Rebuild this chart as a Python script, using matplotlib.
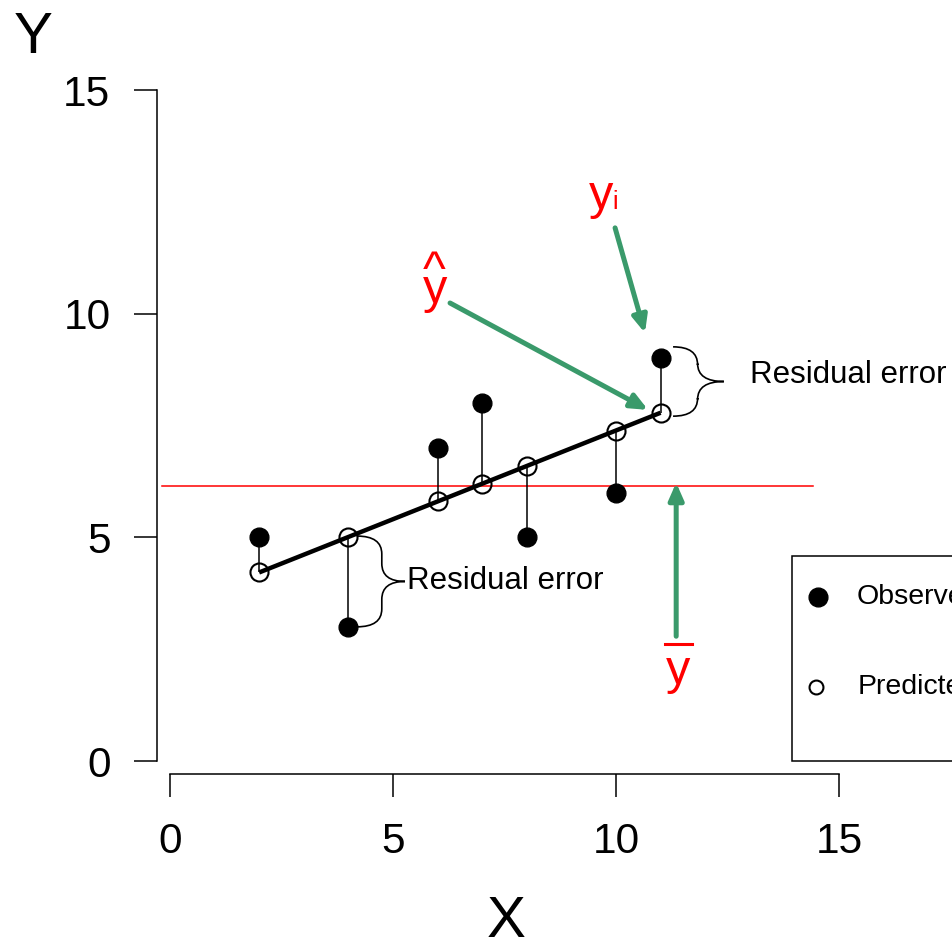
import numpy as np
import matplotlib
matplotlib.use('Agg')
import matplotlib.pyplot as plt
from matplotlib.path import Path
from matplotlib.patches import PathPatch, Rectangle

plt.rcParams['font.family'] = ['Liberation Sans', 'DejaVu Sans']

# ---- data ----
x_obs = [2, 4, 6, 7, 8, 10, 11]
y_obs = [5, 3, 7, 8, 5, 6, 9]
x_ticks = [0, 5, 10, 15]
y_ticks = [0, 5, 10, 15]
legend_labels = ['Observed', 'Predicted']
brace_label = 'Residual error'

slope, intercept = np.polyfit(x_obs, y_obs, 1)
y_pred = intercept + slope * np.array(x_obs, dtype=float)
y_mean = float(np.mean(y_obs))

GREEN = '#3a9a6b'

fig = plt.figure(figsize=(9.53, 9.40), dpi=100)
ax = fig.add_axes([157 / 953, (940 - 774) / 940, 0.7437, 0.7561])
ax.set_xlim(-0.29, 15.6)
ax.set_ylim(-0.29, 15.6)

# mean line
ax.plot([-0.18, 14.42], [y_mean, y_mean], color='red', lw=1.1)
# residuals
ax.vlines(x_obs, y_pred, y_obs, color='black', lw=1.1)
# regression line
ax.plot(x_obs, y_pred, color='black', lw=3.2, solid_capstyle='butt')
# points
ax.plot(x_obs, y_obs, 'o', color='black', ms=13.5, zorder=3)
ax.plot(x_obs, y_pred, 'o', mfc='none', mec='black', mew=1.5, ms=13, zorder=3)

# axes style (R-like)
for s in ['top', 'right']:
    ax.spines[s].set_visible(False)
ax.spines['left'].set_bounds(0, 15)
ax.spines['bottom'].set_bounds(0, 15)
ax.spines['left'].set_linewidth(1.1)
ax.spines['bottom'].set_linewidth(1.1)
ax.set_xticks(x_ticks)
ax.set_yticks(y_ticks)
ax.tick_params(axis='both', length=16.5, width=1.1, labelsize=30.5)
ax.tick_params(axis='y', pad=17)
ax.tick_params(axis='x', pad=18)

fig.text(33 / 953, 1 - 53 / 940, 'Y', fontsize=42, ha='center', va='baseline')
fig.text(506 / 953, 1 - 937 / 940, 'X', fontsize=42, ha='center', va='baseline')


def brace(ax, x0, x1, x2, yt, yb, r):
    ym = (yt + yb) / 2
    verts = [(x0, yt), (x1, yt), (x1, yt - r), (x1, ym + r), (x1, ym), (x2, ym),
             (x2, ym), (x1, ym), (x1, ym - r), (x1, yb + r), (x1, yb), (x0, yb)]
    codes = [Path.MOVETO, Path.CURVE3, Path.CURVE3, Path.LINETO, Path.CURVE3, Path.CURVE3,
             Path.MOVETO, Path.CURVE3, Path.CURVE3, Path.LINETO, Path.CURVE3, Path.CURVE3]
    ax.add_patch(PathPatch(Path(verts, codes), fc='none', ec='black', lw=1.2, clip_on=False))


brace(ax, 11.28, 11.83, 12.42, 9.26, 7.71, 0.4)
brace(ax, 4.19, 4.75, 5.27, 5.03, 3.0, 0.4)
ax.text(13.0, 8.45, brace_label, fontsize=22.5, va='baseline', clip_on=False)
ax.text(5.31, 3.85, brace_label, fontsize=22.5, va='baseline', clip_on=False)

# arrows
aprops = dict(arrowstyle='-|>,head_length=0.5,head_width=0.22', color=GREEN, lw=3.6,
              mutation_scale=20, shrinkA=0, shrinkB=0)
ax.annotate('', xy=(10.65, 9.57), xytext=(9.98, 11.92), arrowprops=aprops)
ax.annotate('', xy=(10.72, 7.85), xytext=(6.28, 10.24), arrowprops=aprops)
ax.annotate('', xy=(11.35, y_mean + 0.08), xytext=(11.35, 2.79), arrowprops=aprops)

# red labels
ax.text(9.66, 12.35, 'y', color='red', fontsize=35, ha='center', va='baseline')
ax.text(9.93, 12.35, 'i', color='red', fontsize=18, ha='left', va='baseline')
ax.text(5.94, 10.23, 'y', color='red', fontsize=35, ha='center', va='baseline')
ax.text(5.93, 10.65, '^', color='red', fontsize=35, ha='center', va='baseline')
ax.text(11.39, 1.72, 'y', color='red', fontsize=35, ha='center', va='baseline')
ax.plot([11.1, 11.7], [2.62, 2.62], color='red', lw=2.2)

# legend (extends beyond figure edge, as in the reference)
ax.add_patch(Rectangle((13.95, 0.0), 6.0, 4.58, fc='white', ec='black', lw=1.1, clip_on=False, zorder=4))
ax.plot([14.52], [3.67], 'o', color='black', ms=13.5, clip_on=False, zorder=5)
ax.plot([14.49], [1.65], 'o', mfc='none', mec='black', mew=1.5, ms=10, clip_on=False, zorder=5)
ax.text(15.4, 3.67, legend_labels[0], fontsize=20.5, va='center', clip_on=False, zorder=5)
ax.text(15.42, 1.65, legend_labels[1], fontsize=20.5, va='center', clip_on=False, zorder=5)

fig.savefig('out.png', dpi=100)
